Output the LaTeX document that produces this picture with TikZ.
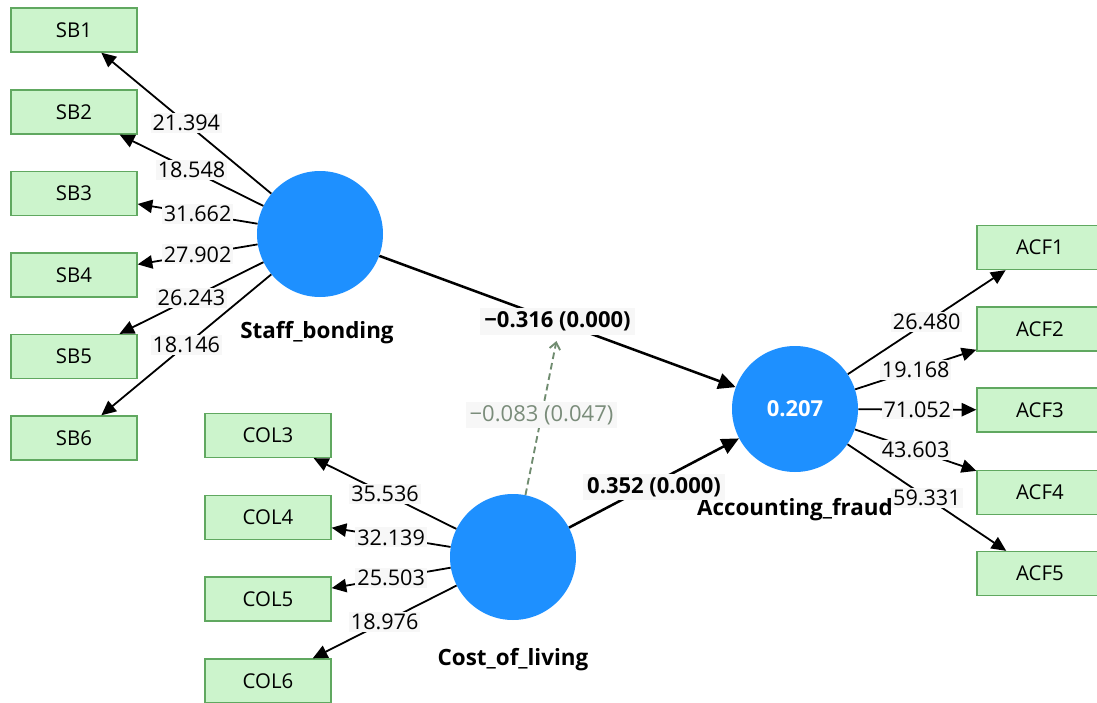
\documentclass[tikz,border=0pt]{standalone}
\usepackage{fontspec}
\setmainfont{Open Sans}
\usetikzlibrary{arrows.meta}
\definecolor{pblue}{RGB}{30,144,255}
\definecolor{boxfill}{RGB}{204,244,204}
\definecolor{boxdraw}{RGB}{96,168,96}
\definecolor{labbg}{RGB}{247,247,247}
\definecolor{modcol}{RGB}{112,140,112}
\definecolor{modtext}{RGB}{122,140,122}
\begin{document}
\begin{tikzpicture}[x=0.75pt,y=-0.75pt,
  ind/.style={draw=boxdraw, fill=boxfill, line width=1pt, minimum width=94.5pt, minimum height=33pt, inner sep=0pt, font=\fontsize{15.3}{18}\selectfont},
  lv/.style={circle, fill=pblue, minimum size=94.5pt, inner sep=0pt},
  lvname/.style={font=\bfseries\fontsize{16.8}{20}\selectfont},
  load/.style={line width=1.35pt, -{Triangle[length=11pt,width=10pt]}},
  lab/.style={fill=labbg, inner sep=1.5pt, font=\fontsize{16.2}{19}\selectfont},
  structline/.style={line width=1.9pt, -{Triangle[length=13pt,width=12pt]}},
  plab/.style={fill=labbg, inner xsep=3pt, inner ysep=2.5pt, font=\bfseries\fontsize{16.5}{19}\selectfont},
  modline/.style={modcol, line width=1.4pt, dash pattern=on 5pt off 3pt, -{Straight Barb[length=5pt,width=8pt]}, shorten >=4pt},
  modlab/.style={fill=labbg, inner xsep=3pt, inner ysep=2.5pt, text=modtext, font=\fontsize{16.5}{19}\selectfont}
]
\useasboundingbox (0,0) rectangle (1097,703);
\fill[white] (0,0) rectangle (1097,703);

% indicator boxes
\node[ind] (SB1) at (74,30) {SB1};
\node[ind] (SB2) at (74,112) {SB2};
\node[ind] (SB3) at (74,193.5) {SB3};
\node[ind] (SB4) at (74,275) {SB4};
\node[ind] (SB5) at (74,356.5) {SB5};
\node[ind] (SB6) at (74,438) {SB6};

\node[ind] (COL3) at (268,435.5) {COL3};
\node[ind] (COL4) at (268,517.5) {COL4};
\node[ind] (COL5) at (268,599) {COL5};
\node[ind] (COL6) at (268,681) {COL6};

\node[ind] (ACF1) at (1040,247.5) {ACF1};
\node[ind] (ACF2) at (1040,329) {ACF2};
\node[ind] (ACF3) at (1040,410) {ACF3};
\node[ind] (ACF4) at (1040,492.5) {ACF4};
\node[ind] (ACF5) at (1040,573.5) {ACF5};

% latent variables
\node[lv] (SB) at (320,234) {};
\node[lv] (COL) at (513,557) {};
\node[lv, text=white, font=\bfseries\fontsize{16.5}{19}\selectfont] (AF) at (795,409) {0.207};

\node[lvname] (SBn) at (317,333) {Staff\_bonding};
\node[lvname] (COLn) at (513,660) {Cost\_of\_living};
\node[lvname] (AFn) at (795,510) {Accounting\_fraud};

% loadings
\draw[load] (SB) -- node[lab] {21.394} (SB1);
\draw[load] (SB) -- node[lab] {18.548} (SB2);
\draw[load] (SB) -- node[lab] {31.662} (SB3);
\draw[load] (SB) -- node[lab] {27.902} (SB4);
\draw[load] (SB) -- node[lab] {26.243} (SB5);
\draw[load] (SB) -- node[lab] {18.146} (SB6);

\draw[load] (COL) -- node[lab] {35.536} (COL3);
\draw[load] (COL) -- node[lab] {32.139} (COL4);
\draw[load] (COL) -- node[lab] {25.503} (COL5);
\draw[load] (COL) -- node[lab] {18.976} (COL6);

\draw[load] (AF) -- node[lab] {26.480} (ACF1);
\draw[load] (AF) -- node[lab] {19.168} (ACF2);
\draw[load] (AF) -- node[lab] {71.052} (ACF3);
\draw[load] (AF) -- node[lab] {43.603} (ACF4);
\draw[load] (AF) -- node[lab] {59.331} (ACF5);

% structural paths
\draw[structline] (SB) -- node[plab] (p1) {−0.316 (0.000)} (AF);
\draw[structline] (COL) -- node[plab, yshift=-3pt] (p2) {0.352 (0.000)} (AF);

% moderation
\draw[modline] (COL) -- node[modlab] (m) {−0.083 (0.047)} (p1.south);
\end{tikzpicture}
\end{document}
